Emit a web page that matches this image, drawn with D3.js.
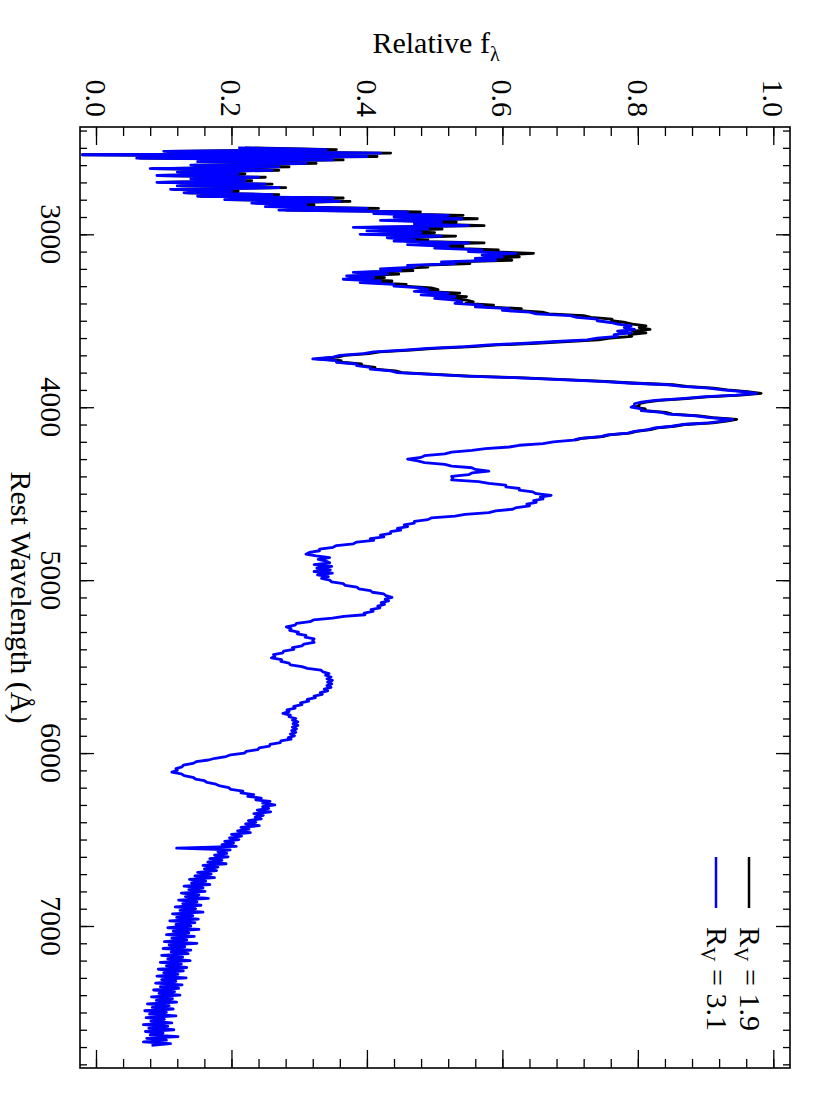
<!DOCTYPE html>
<html>
<head>
<meta charset="utf-8" />
<script src="https://cdn.jsdelivr.net/npm/d3@7"></script>
<style>
  body { margin: 0; background: #fff; }
  svg { display: block; font-family: "Liberation Serif", "Times New Roman", serif; }
  .axis line { stroke: #000; stroke-width: 1.3; }
  .frame { fill: none; stroke: #000; stroke-width: 1.6; }
</style>
</head>
<body>
<svg id="chart" width="830" height="1107"></svg>
<script>
// spectrum sampled every 10 A starting at 2500 A
const waveStart = 2500, waveStep = 10;

// R_V = 3.1 (blue), 2500 - 7690 A
const fluxRv31 = [
  0.21, 0.34, 0.10, 0.42, -0.02, 0.40, 0.06, 0.35, 0.15, 0.31,
  0.14, 0.27, 0.08, 0.26, 0.12, 0.21, 0.09, 0.24, 0.14, 0.22,
  0.09, 0.25, 0.12, 0.27, 0.11, 0.20, 0.13, 0.26, 0.15, 0.35,
  0.19, 0.36, 0.23, 0.31, 0.25, 0.40, 0.27, 0.46, 0.41, 0.52,
  0.44, 0.54, 0.42, 0.51, 0.47, 0.55, 0.38, 0.49, 0.40, 0.48,
  0.39, 0.51, 0.43, 0.47, 0.44, 0.55, 0.46, 0.52, 0.50, 0.57,
  0.55, 0.62, 0.57, 0.60, 0.56, 0.59, 0.51, 0.53, 0.46, 0.47,
  0.42, 0.45, 0.38, 0.43, 0.37, 0.41, 0.365, 0.42, 0.39, 0.44,
  0.44, 0.48, 0.49, 0.47, 0.52, 0.48, 0.53, 0.50, 0.53, 0.54,
  0.53, 0.57, 0.56, 0.61, 0.60, 0.64, 0.65, 0.70, 0.71, 0.74,
  0.74, 0.76, 0.77, 0.79, 0.78, 0.795, 0.77, 0.79, 0.765, 0.77,
  0.74, 0.725, 0.68, 0.635, 0.58, 0.545, 0.49, 0.455, 0.41, 0.395,
  0.36, 0.35, 0.32, 0.355, 0.355, 0.385, 0.385, 0.405, 0.405, 0.435,
  0.445, 0.495, 0.545, 0.625, 0.685, 0.745, 0.785, 0.845, 0.865, 0.905,
  0.925, 0.955, 0.975, 0.945, 0.895, 0.865, 0.825, 0.805, 0.795, 0.795,
  0.79, 0.805, 0.805, 0.835, 0.845, 0.885, 0.905, 0.94, 0.925, 0.905,
  0.865, 0.85, 0.825, 0.815, 0.795, 0.785, 0.755, 0.745, 0.715, 0.705,
  0.675, 0.66, 0.625, 0.61, 0.575, 0.555, 0.525, 0.515, 0.485, 0.48,
  0.46, 0.475, 0.485, 0.515, 0.525, 0.555, 0.56, 0.58, 0.555, 0.55,
  0.525, 0.527, 0.525, 0.565, 0.58, 0.605, 0.605, 0.625, 0.625, 0.645,
  0.65, 0.672, 0.656, 0.66, 0.646, 0.65, 0.636, 0.64, 0.621, 0.615,
  0.59, 0.58, 0.545, 0.53, 0.495, 0.49, 0.47, 0.47, 0.455, 0.46,
  0.445, 0.45, 0.435, 0.435, 0.42, 0.425, 0.405, 0.41, 0.385, 0.38,
  0.355, 0.35, 0.33, 0.33, 0.315, 0.31, 0.325, 0.345, 0.328, 0.34,
  0.345, 0.322, 0.348, 0.326, 0.346, 0.322, 0.349, 0.327, 0.343, 0.333,
  0.345, 0.348, 0.365, 0.368, 0.385, 0.388, 0.405, 0.408, 0.425, 0.428,
  0.437, 0.427, 0.432, 0.421, 0.426, 0.416, 0.419, 0.406, 0.409, 0.396,
  0.397, 0.366, 0.349, 0.321, 0.316, 0.296, 0.294, 0.281, 0.288, 0.286,
  0.299, 0.297, 0.31, 0.309, 0.322, 0.32, 0.322, 0.307, 0.304, 0.29,
  0.292, 0.277, 0.276, 0.262, 0.264, 0.259, 0.274, 0.273, 0.285, 0.287,
  0.304, 0.312, 0.332, 0.335, 0.344, 0.339, 0.347, 0.341, 0.349, 0.342,
  0.348, 0.341, 0.347, 0.337, 0.342, 0.331, 0.334, 0.322, 0.324, 0.312,
  0.314, 0.302, 0.304, 0.292, 0.294, 0.282, 0.285, 0.276, 0.287, 0.285,
  0.295, 0.29, 0.298, 0.291, 0.298, 0.29, 0.296, 0.289, 0.295, 0.287,
  0.293, 0.284, 0.288, 0.273, 0.272, 0.257, 0.256, 0.241, 0.239, 0.222,
  0.219, 0.199, 0.192, 0.176, 0.166, 0.148, 0.143, 0.129, 0.127, 0.118,
  0.12, 0.112, 0.126, 0.13, 0.143, 0.147, 0.16, 0.164, 0.177, 0.183,
  0.196, 0.199, 0.217, 0.214, 0.233, 0.224, 0.244, 0.236, 0.257, 0.246,
  0.264, 0.246, 0.255, 0.238, 0.258, 0.233, 0.247, 0.235, 0.244, 0.225,
  0.236, 0.221, 0.241, 0.214, 0.226, 0.209, 0.228, 0.2, 0.215, 0.197,
  0.211, 0.19, 0.203, 0.186, 0.207, 0.119, 0.198, 0.18, 0.193, 0.175,
  0.195, 0.168, 0.186, 0.165, 0.192, 0.158, 0.18, 0.16, 0.178, 0.15,
  0.17, 0.146, 0.175, 0.138, 0.162, 0.141, 0.168, 0.13, 0.158, 0.137,
  0.161, 0.126, 0.152, 0.132, 0.166, 0.122, 0.149, 0.128, 0.155, 0.117,
  0.147, 0.124, 0.158, 0.113, 0.143, 0.119, 0.151, 0.109, 0.146, 0.118,
  0.14, 0.106, 0.152, 0.114, 0.137, 0.104, 0.145, 0.112, 0.134, 0.101,
  0.149, 0.108, 0.131, 0.099, 0.14, 0.111, 0.136, 0.097, 0.128, 0.106,
  0.139, 0.095, 0.126, 0.104, 0.134, 0.092, 0.129, 0.1, 0.121, 0.09,
  0.133, 0.097, 0.118, 0.088, 0.127, 0.095, 0.122, 0.085, 0.116, 0.093,
  0.124, 0.082, 0.113, 0.089, 0.119, 0.076, 0.108, 0.083, 0.114, 0.072,
  0.104, 0.079, 0.118, 0.074, 0.101, 0.081, 0.112, 0.07, 0.106, 0.078,
  0.115, 0.073, 0.099, 0.08, 0.121, 0.075, 0.104, 0.07, 0.11, 0.082
];

// R_V = 1.9 (black), 2500 - 4190 A; redder part lies under the blue curve
const fluxRv19 = [
  0.22, 0.355, 0.105, 0.435, -0.02, 0.415, 0.065, 0.365, 0.155, 0.325,
  0.145, 0.285, 0.083, 0.27, 0.125, 0.22, 0.093, 0.25, 0.145, 0.23,
  0.093, 0.26, 0.125, 0.28, 0.114, 0.21, 0.135, 0.27, 0.155, 0.365,
  0.198, 0.375, 0.239, 0.322, 0.26, 0.417, 0.281, 0.479, 0.427, 0.542,
  0.458, 0.563, 0.438, 0.532, 0.489, 0.573, 0.396, 0.511, 0.417, 0.5,
  0.406, 0.531, 0.448, 0.49, 0.458, 0.573, 0.479, 0.542, 0.521, 0.594,
  0.573, 0.646, 0.594, 0.625, 0.583, 0.614, 0.531, 0.552, 0.479, 0.49,
  0.437, 0.468, 0.395, 0.447, 0.385, 0.426, 0.38, 0.437, 0.406, 0.458,
  0.455, 0.495, 0.505, 0.485, 0.537, 0.495, 0.547, 0.516, 0.547, 0.557,
  0.546, 0.587, 0.576, 0.628, 0.618, 0.659, 0.669, 0.72, 0.731, 0.762,
  0.761, 0.782, 0.792, 0.812, 0.802, 0.818, 0.792, 0.812, 0.787, 0.791,
  0.759, 0.742, 0.696, 0.65, 0.593, 0.557, 0.5, 0.465, 0.419, 0.403,
  0.367, 0.357, 0.326, 0.362, 0.362, 0.392, 0.392, 0.412, 0.412, 0.442,
  0.452, 0.502, 0.552, 0.632, 0.692, 0.752, 0.792, 0.852, 0.872, 0.912,
  0.932, 0.962, 0.982, 0.952, 0.902, 0.872, 0.832, 0.812, 0.802, 0.802,
  0.796, 0.811, 0.811, 0.841, 0.851, 0.891, 0.911, 0.946, 0.931, 0.911,
  0.869, 0.854, 0.829, 0.819, 0.798, 0.788, 0.758, 0.748, 0.717, 0.707
];

const fluxTicks = [0, 0.2, 0.4, 0.6, 0.8, 1.0];
const fluxTickLabels = ["0.0", "0.2", "0.4", "0.6", "0.8", "1.0"];
const waveTicks = [3000, 4000, 5000, 6000, 7000];
const waveTickLabels = ["3000", "4000", "5000", "6000", "7000"];
const legendRv = ["1.9", "3.1"];
const legendColors = ["#000000", "#0000ff"];

const box = { left: 80, right: 790, top: 127, bottom: 1068 };
const svg = d3.select("#chart");

// flux runs left->right, wavelength runs top->bottom (rotated page)
const x = d3.scaleLinear().domain([0, 1]).range([96, 773.3]);
const y = d3.scaleLinear().domain([3000, 7000]).range([234.3, 926]);

const fluxMinor = d3.range(0, 1.0001, 0.04);
const waveMinor = d3.range(2400, 7801, 100);

function tickAxis(axisFn, scale, vals, size, tx, ty) {
  const g = svg.append("g").attr("class", "axis")
    .attr("transform", `translate(${tx},${ty})`)
    .call(axisFn(scale).tickValues(vals).tickSize(size).tickFormat(""));
  g.select(".domain").remove();
}
tickAxis(d3.axisBottom, x, fluxMinor, 9, 0, box.top);
tickAxis(d3.axisBottom, x, fluxTicks, 18, 0, box.top);
tickAxis(d3.axisTop, x, fluxMinor, 9, 0, box.bottom);
tickAxis(d3.axisTop, x, fluxTicks, 18, 0, box.bottom);
tickAxis(d3.axisRight, y, waveMinor, 7, box.left, 0);
tickAxis(d3.axisRight, y, waveTicks, 14, box.left, 0);
tickAxis(d3.axisLeft, y, waveMinor, 7, box.right, 0);
tickAxis(d3.axisLeft, y, waveTicks, 14, box.right, 0);

svg.append("rect").attr("class", "frame")
  .attr("x", box.left).attr("y", box.top)
  .attr("width", box.right - box.left).attr("height", box.bottom - box.top);

// tick labels, rotated with the page
svg.append("g").selectAll("text").data(fluxTicks).join("text")
  .attr("transform", d => `translate(${x(d) - 10},117) rotate(90)`)
  .attr("text-anchor", "end").attr("font-size", 30)
  .text((d, i) => fluxTickLabels[i]);

svg.append("g").selectAll("text").data(waveTicks).join("text")
  .attr("transform", d => `translate(41,${y(d)}) rotate(90)`)
  .attr("text-anchor", "middle").attr("font-size", 30)
  .text((d, i) => waveTickLabels[i]);

// axis titles
const ft = svg.append("text").attr("x", 436).attr("y", 53)
  .attr("text-anchor", "middle").attr("font-size", 30);
ft.append("tspan").text("Relative f");
ft.append("tspan").attr("dy", 8).attr("font-size", 20).text("λ");

svg.append("text")
  .attr("transform", `translate(11,${(box.top + box.bottom) / 2}) rotate(90)`)
  .attr("text-anchor", "middle").attr("font-size", 30)
  .text("Rest Wavelength (Å)");

// spectra
svg.append("clipPath").attr("id", "clip").append("rect")
  .attr("x", box.left).attr("y", box.top)
  .attr("width", box.right - box.left).attr("height", box.bottom - box.top);

const line = d3.line().x(d => x(d.f)).y(d => y(d.w));
const toPts = arr => arr.map((f, i) => ({ w: waveStart + i * waveStep, f }));

const plot = svg.append("g").attr("clip-path", "url(#clip)");
[fluxRv19, fluxRv31].forEach((arr, i) => {
  plot.append("path").datum(toPts(arr))
    .attr("fill", "none").attr("stroke", legendColors[i])
    .attr("stroke-width", 2.8).attr("stroke-linejoin", "round")
    .attr("d", line);
});

// legend
const legX = [749, 716];
legendRv.forEach((rv, i) => {
  svg.append("line")
    .attr("x1", legX[i]).attr("x2", legX[i]).attr("y1", 857).attr("y2", 908)
    .attr("stroke", legendColors[i]).attr("stroke-width", 2.5);
  const t = svg.append("text")
    .attr("transform", `translate(${legX[i] - 9},927) rotate(90)`)
    .attr("font-size", 30);
  t.append("tspan").text("R");
  t.append("tspan").attr("dy", 6).attr("font-size", 20).text("V");
  t.append("tspan").attr("dy", -6).text(" = " + rv);
});
</script>
</body>
</html>
